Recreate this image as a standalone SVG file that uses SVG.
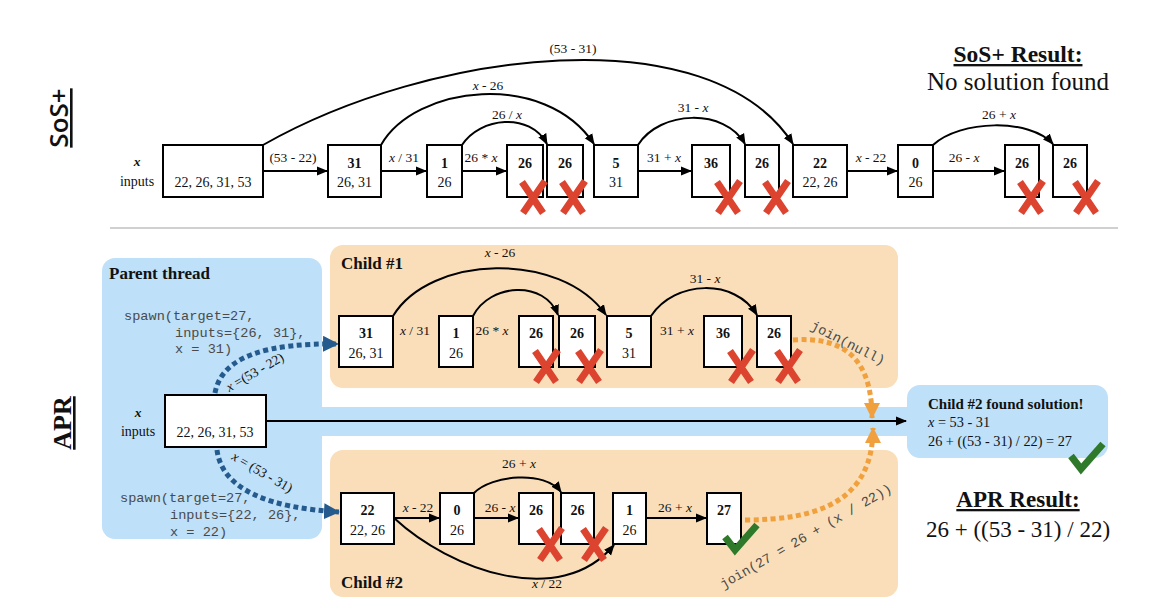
<svg xmlns="http://www.w3.org/2000/svg" width="1175" height="612" viewBox="0 0 1175 612">
<style>
.box{fill:#fff;stroke:#000;stroke-width:2}
.num{font-family:"Liberation Serif",serif;font-size:14px;font-weight:bold;text-anchor:middle;fill:#111}
.sub{font-family:"Liberation Serif",serif;font-size:14px;text-anchor:middle;fill:#111}
.lbl{font-family:"Liberation Serif",serif;font-size:13.5px;text-anchor:middle;fill:#111}
.it{font-style:italic}
.edge{fill:none;stroke:#000;stroke-width:2;marker-end:url(#ah)}
.code{font-family:"Liberation Mono",monospace;font-size:13.6px;fill:#4a4a4a;white-space:pre}
.title{font-family:"Liberation Serif",serif;font-size:17px;font-weight:bold;fill:#111}
.blue{fill:none;stroke:#245a8e;stroke-width:5;stroke-dasharray:5 3.5;marker-end:url(#bh)}
.orange{fill:none;stroke:#f0a03c;stroke-width:5;stroke-dasharray:5 3.5;marker-end:url(#oh)}
</style>
<defs>
<marker id="ah" markerWidth="11" markerHeight="10" refX="10" refY="5" orient="auto" markerUnits="userSpaceOnUse"><path d="M0,0.5 L11,5 L0,9.5 z" fill="#000"/></marker>
<marker id="bh" markerWidth="16" markerHeight="16" refX="15" refY="8" orient="auto" markerUnits="userSpaceOnUse"><path d="M0,0 L16,8 L0,16 z" fill="#245a8e"/></marker>
<marker id="oh" markerWidth="16" markerHeight="16" refX="15" refY="8" orient="auto" markerUnits="userSpaceOnUse"><path d="M0,0 L16,8 L0,16 z" fill="#f0a03c"/></marker>
<path id="xm" d="M-11,-15 L10,16 M12,-16 L-10,16" stroke="#dc4430" stroke-width="7" fill="none"/>
<path id="ck" d="M-16,-3 L-6,10 L16,-15" stroke="#2f7a2a" stroke-width="7" fill="none"/>
</defs>
<rect width="1175" height="612" fill="#fff"/>

<!-- section labels -->
<text transform="translate(68,118) rotate(-90)" text-anchor="middle" font-family="Open Sans, sans-serif" font-weight="600" font-size="26" fill="#111" text-decoration="underline">SoS+</text>
<text transform="translate(71,423) rotate(-90)" text-anchor="middle" font-family="Liberation Serif, serif" font-weight="bold" font-size="26" fill="#111" text-decoration="underline">APR</text>
<line x1="110" y1="228" x2="1118" y2="228" stroke="#d0d0d0" stroke-width="2"/>

<!-- results -->
<g id="sos-result">
<text x="1018" y="62" text-anchor="middle" font-family="Liberation Serif, serif" font-weight="bold" font-size="23.5" fill="#111" text-decoration="underline">SoS+ Result:</text>
<text x="1018" y="90" text-anchor="middle" font-family="Liberation Serif, serif" font-size="25" fill="#111">No solution found</text>
</g>

<!-- APR backgrounds -->
<g id="parent">
<rect x="320" y="407" width="592" height="29" fill="#bee0f8"/>
<rect x="102" y="258" width="220" height="281" rx="13" fill="#bee0f8"/>
<text class="title" x="109" y="279">Parent thread</text>
<text class="code" x="124" y="320">spawn(target=27,</text>
<text class="code" x="175" y="337">inputs={26, 31},</text>
<text class="code" x="175" y="353">x = 31)</text>
<text class="code" x="120" y="502">spawn(target=27,</text>
<text class="code" x="170" y="519">inputs={22, 26},</text>
<text class="code" x="170" y="536">x = 22)</text>
</g>
<g id="child2-result">
<rect x="907" y="385" width="201" height="73" rx="13" fill="#bee0f8"/>
<text x="928" y="409" font-family="Liberation Serif, serif" font-weight="bold" font-size="15" fill="#111">Child #2 found solution!</text>
<text x="928" y="427" font-family="Liberation Serif, serif" font-size="14.3" fill="#111"><tspan class="it">x</tspan> = 53 - 31</text>
<text x="928" y="446" font-family="Liberation Serif, serif" font-size="14.3" fill="#111">26 + ((53 - 31)  /  22) = 27</text>
<use href="#ck" x="1087" y="459"/>
</g>
<g id="apr-result">
<text x="1018" y="507" text-anchor="middle" font-family="Liberation Serif, serif" font-weight="bold" font-size="23" fill="#111" text-decoration="underline">APR Result:</text>
<text x="1018" y="537" text-anchor="middle" font-family="Liberation Serif, serif" font-size="23" fill="#111">26 + ((53 - 31)  /  22)</text>
</g>
<g id="child1">
<rect x="330" y="245" width="568" height="143" rx="13" fill="#f9deb9"/>
<text class="title" x="341" y="269">Child #1</text>
</g>
<g id="child2">
<rect x="330" y="450" width="568" height="147" rx="13" fill="#f9deb9"/>
<text class="title" x="341" y="588">Child #2</text>
</g>

<!-- connectors -->
<g id="connectors">
<!-- SoS+ -->
<line class="edge" x1="263" y1="171" x2="327" y2="171"/>
<line class="edge" x1="381" y1="171" x2="426" y2="171"/>
<line class="edge" x1="462" y1="171" x2="506" y2="171"/>
<line class="edge" x1="638" y1="171" x2="691" y2="171"/>
<line class="edge" x1="847" y1="171" x2="897" y2="171"/>
<line class="edge" x1="933" y1="171" x2="1004" y2="171"/>
<path class="edge" d="M263,145 C430,50 710,15 793,144"/>
<path class="edge" d="M381,145 C415,85 545,70 594,144"/>
<path class="edge" d="M462,145 C480,117 530,112 547,144"/>
<path class="edge" d="M638,145 C660,110 725,108 745,144"/>
<path class="edge" d="M933,145 C960,120 1030,118 1053,144"/>
<!-- child 1 -->
<path class="edge" d="M393,316 C430,255 560,250 606,315"/>
<path class="edge" d="M473,316 C490,283 545,280 558,315"/>
<path class="edge" d="M651,316 C675,280 735,278 757,315"/>
<!-- child 2 -->
<line class="edge" x1="394" y1="518" x2="439" y2="518"/>
<line class="edge" x1="474" y1="518" x2="518" y2="518"/>
<line class="edge" x1="646" y1="518" x2="706" y2="518"/>
<path class="edge" d="M474,493 C492,475 545,470 561,492"/>
<path class="edge" d="M394,518 C450,570 560,610 614,545"/>
<!-- APR main -->
<line class="edge" x1="266" y1="421" x2="906" y2="421"/>
<path class="blue" d="M215,393 C222,355 270,343 338,344"/>
<path class="blue" d="M217,450 C222,490 270,508 339,512"/>
<path class="orange" d="M793,340 C835,337 872,350 872,418"/>
<path class="orange" d="M745,520 C820,520 873,500 873,428"/>
<!-- labels -->
<text class="lbl" x="293" y="162">(53 - 22)</text>
<text class="lbl" x="404" y="162"><tspan class="it">x</tspan> / 31</text>
<text class="lbl" x="481" y="162">26 * <tspan class="it">x</tspan></text>
<text class="lbl" x="664" y="162">31 + <tspan class="it">x</tspan></text>
<text class="lbl" x="871" y="162"><tspan class="it">x</tspan> - 22</text>
<text class="lbl" x="964" y="162">26 - <tspan class="it">x</tspan></text>
<text class="lbl" x="573" y="53">(53 - 31)</text>
<text class="lbl" x="488" y="90"><tspan class="it">x</tspan> - 26</text>
<text class="lbl" x="507" y="119">26 / <tspan class="it">x</tspan></text>
<text class="lbl" x="693" y="112">31 - <tspan class="it">x</tspan></text>
<text class="lbl" x="999" y="119">26 + <tspan class="it">x</tspan></text>
<text class="lbl" x="500" y="257"><tspan class="it">x</tspan> - 26</text>
<text class="lbl" x="415" y="335"><tspan class="it">x</tspan> / 31</text>
<text class="lbl" x="492" y="335">26 * <tspan class="it">x</tspan></text>
<text class="lbl" x="705" y="283">31 - <tspan class="it">x</tspan></text>
<text class="lbl" x="677" y="335">31 + <tspan class="it">x</tspan></text>
<text class="lbl" x="519" y="468">26 + <tspan class="it">x</tspan></text>
<text class="lbl" x="418" y="512"><tspan class="it">x</tspan> - 22</text>
<text class="lbl" x="500" y="512">26 - <tspan class="it">x</tspan></text>
<text class="lbl" x="547" y="588"><tspan class="it">x</tspan> / 22</text>
<text class="lbl" x="675" y="512">26 + <tspan class="it">x</tspan></text>
<text class="lbl" transform="translate(257,376) rotate(-30)"><tspan class="it">x</tspan> =(53 - 22)</text>
<text class="lbl" transform="translate(260,476) rotate(30)"><tspan class="it">x</tspan> = (53 - 31)</text>
<text class="code" text-anchor="middle" transform="translate(846,347) rotate(27)">join(null)</text>
<text class="code" text-anchor="middle" transform="translate(808,540) rotate(-30)">join(27 = 26 + (x / 22))</text>
</g>

<!-- SoS+ nodes -->
<g id="s-in"><text class="lbl it" font-weight="bold" x="137" y="166">x</text><text class="sub" x="137" y="186">inputs</text><rect class="box" x="163" y="145" width="100" height="52"/><text class="sub" x="213" y="187">22, 26, 31, 53</text></g>
<g id="s-31"><rect class="box" x="328" y="145" width="53" height="52"/><text class="num" x="354.5" y="168">31</text><text class="sub" x="354.5" y="187">26, 31</text></g>
<g id="s-1"><rect class="box" x="427" y="145" width="35" height="52"/><text class="num" x="444.5" y="168">1</text><text class="sub" x="444.5" y="187">26</text></g>
<g id="s-26a"><rect class="box" x="507" y="145" width="36" height="52"/><text class="num" x="525" y="168">26</text></g>
<g id="s-26b"><rect class="box" x="547" y="145" width="36" height="52"/><text class="num" x="565" y="168">26</text></g>
<g id="s-5"><rect class="box" x="594" y="145" width="44" height="52"/><text class="num" x="616" y="168">5</text><text class="sub" x="616" y="187">31</text></g>
<g id="s-36"><rect class="box" x="692" y="145" width="38" height="52"/><text class="num" x="711" y="168">36</text></g>
<g id="s-26c"><rect class="box" x="745" y="145" width="34" height="52"/><text class="num" x="762" y="168">26</text></g>
<g id="s-22"><rect class="box" x="793" y="145" width="54" height="52"/><text class="num" x="820" y="168">22</text><text class="sub" x="820" y="187">22, 26</text></g>
<g id="s-0"><rect class="box" x="898" y="145" width="35" height="52"/><text class="num" x="915.5" y="168">0</text><text class="sub" x="915.5" y="187">26</text></g>
<g id="s-26d"><rect class="box" x="1005" y="145" width="34" height="52"/><text class="num" x="1022" y="168">26</text></g>
<g id="s-26e"><rect class="box" x="1053" y="145" width="34" height="52"/><text class="num" x="1070" y="168">26</text></g>

<!-- APR input -->
<g id="a-in"><text class="lbl it" font-weight="bold" x="138" y="417">x</text><text class="sub" x="138" y="436">inputs</text><rect class="box" x="165" y="395" width="101" height="52"/><text class="sub" x="215" y="437">22, 26, 31, 53</text></g>

<!-- child 1 nodes -->
<g id="c1-31"><rect class="box" x="339" y="316" width="54" height="51"/><text class="num" x="366" y="338">31</text><text class="sub" x="366" y="358">26, 31</text></g>
<g id="c1-1"><rect class="box" x="439" y="316" width="34" height="51"/><text class="num" x="456" y="338">1</text><text class="sub" x="456" y="358">26</text></g>
<g id="c1-26a"><rect class="box" x="519" y="316" width="34" height="51"/><text class="num" x="536" y="338">26</text></g>
<g id="c1-26b"><rect class="box" x="559" y="316" width="36" height="51"/><text class="num" x="577" y="338">26</text></g>
<g id="c1-5"><rect class="box" x="607" y="316" width="44" height="51"/><text class="num" x="629" y="338">5</text><text class="sub" x="629" y="358">31</text></g>
<g id="c1-36"><rect class="box" x="704" y="316" width="38" height="51"/><text class="num" x="723" y="338">36</text></g>
<g id="c1-26c"><rect class="box" x="757" y="316" width="34" height="51"/><text class="num" x="774" y="338">26</text></g>

<!-- child 2 nodes -->
<g id="c2-22"><rect class="box" x="341" y="493" width="53" height="51"/><text class="num" x="367.5" y="515">22</text><text class="sub" x="367.5" y="535">22, 26</text></g>
<g id="c2-0"><rect class="box" x="440" y="493" width="34" height="51"/><text class="num" x="457" y="515">0</text><text class="sub" x="457" y="535">26</text></g>
<g id="c2-26a"><rect class="box" x="519" y="493" width="34" height="51"/><text class="num" x="536" y="515">26</text></g>
<g id="c2-26b"><rect class="box" x="561" y="493" width="33" height="51"/><text class="num" x="577.5" y="515">26</text></g>
<g id="c2-1"><rect class="box" x="613" y="493" width="33" height="51"/><text class="num" x="629.5" y="515">1</text><text class="sub" x="629.5" y="535">26</text></g>
<g id="c2-27"><rect class="box" x="707" y="493" width="34" height="51"/><text class="num" x="724" y="515">27</text></g>

<!-- marks -->
<g id="marks">
<use href="#xm" x="533" y="197"/>
<use href="#xm" x="573" y="197"/>
<use href="#xm" x="728" y="197"/>
<use href="#xm" x="776" y="197"/>
<use href="#xm" x="1031" y="197"/>
<use href="#xm" x="1086" y="197"/>
<use href="#xm" x="546" y="366"/>
<use href="#xm" x="589" y="366"/>
<use href="#xm" x="741" y="366"/>
<use href="#xm" x="788" y="366"/>
<use href="#xm" x="550" y="544"/>
<use href="#xm" x="594" y="544"/>
<use href="#ck" x="741" y="540"/>
</g>
</svg>
